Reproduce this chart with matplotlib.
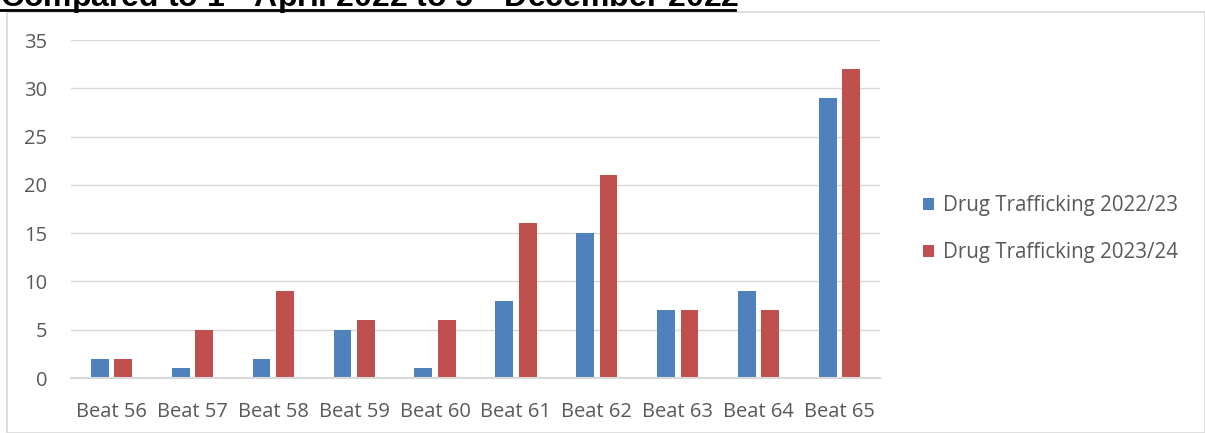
import matplotlib
matplotlib.use("Agg")
import matplotlib.pyplot as plt
import numpy as np
from matplotlib.patches import Rectangle
from matplotlib.lines import Line2D

categories = ["Beat 56", "Beat 57", "Beat 58", "Beat 59", "Beat 60",
              "Beat 61", "Beat 62", "Beat 63", "Beat 64", "Beat 65"]
series_2223 = [2, 1, 2, 5, 1, 8, 15, 7, 9, 29]
series_2324 = [2, 5, 9, 6, 6, 16, 21, 7, 7, 32]
series_names = ["Drug Trafficking 2022/23", "Drug Trafficking 2023/24"]
yticks = [0, 5, 10, 15, 20, 25, 30, 35]

W, H = 1205, 433
fig = plt.figure(figsize=(W / 100, H / 100), dpi=100)
plt.rcParams['mathtext.fontset'] = 'custom'
plt.rcParams['mathtext.rm'] = 'Liberation Sans:bold'
plt.rcParams['mathtext.it'] = 'Liberation Sans:bold'

# chart frame
fig.patches.append(Rectangle((7 / W, 0), 1 - 7 / W, 1 - 12 / H, transform=fig.transFigure,
                             fill=False, edgecolor="#D9D9D9", linewidth=1.2))

ax = fig.add_axes([71 / W, 1 - 378 / H, (880 - 71) / W, (378 - 40) / H])
x = np.arange(len(categories))
w = 0.22
off = 0.145
ax.bar(x - off, series_2223, w, color="#4F81BD", label=series_names[0], zorder=3)
ax.bar(x + off, series_2324, w, color="#C0504D", label=series_names[1], zorder=3)

ax.set_xlim(-0.5, len(categories) - 0.5)
ax.set_ylim(0, 35)
ax.set_yticks(yticks)
ax.set_xticks(x)
ax.set_xticklabels(categories)
ax.grid(axis="y", color="#D9D9D9", linewidth=1, zorder=0)
for s in ["top", "right", "left"]:
    ax.spines[s].set_visible(False)
ax.spines["bottom"].set_color("#D9D9D9")
ax.spines["bottom"].set_linewidth(1.5)
ax.spines["bottom"].set_zorder(4)
ax.tick_params(axis="both", length=0, labelsize=14.5, colors="#595959")
ax.tick_params(axis="y", pad=17)
ax.tick_params(axis="x", pad=17)
for lab in ax.get_xticklabels() + ax.get_yticklabels():
    lab.set_family("Open Sans")

leg = fig.legend(loc="upper left", bbox_to_anchor=(904 / W, 1 - 177 / H),
                 frameon=False, prop={"family": "Open Sans", "size": 14.8},
                 handlelength=0.55, handleheight=0.55, handletextpad=0.45,
                 labelspacing=1.25, labelcolor="#595959")

# title (cut off at top, as in the reference)
fig.text(0 / W, 1 - 7 / H, r"Compared to 1$^{st}$ April 2022 to 5$^{th}$ December 2022",
         fontsize=23, fontweight="bold", family="Liberation Sans",
         ha="left", va="baseline", color="black")
fig.add_artist(Line2D([0, 735 / W], [1 - 10 / H, 1 - 10 / H], transform=fig.transFigure,
                      color="black", linewidth=2))

fig.savefig("out.png", dpi=100)
